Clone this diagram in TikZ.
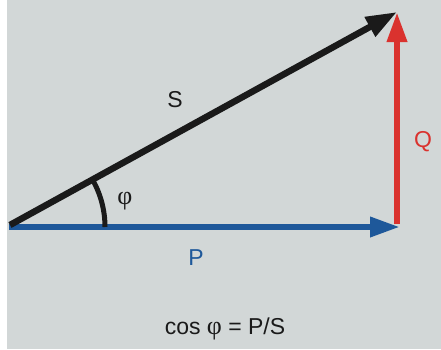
\documentclass[tikz,border=0pt]{standalone}
\usepackage{fontspec}
\setmainfont{Liberation Sans}
\newfontfamily\phifont{Liberation Serif}
\usetikzlibrary{arrows.meta,calc}
\definecolor{bggray}{RGB}{210,215,215}
\definecolor{vblue}{RGB}{30,88,154}
\definecolor{vred}{RGB}{218,50,46}
\definecolor{vblack}{RGB}{26,26,26}
\newcommand{\phisym}{{\phifont\fontsize{26}{28}\selectfont φ}}
\begin{document}
\begin{tikzpicture}[x=1pt,y=1pt,
  vec/.style={line width=6.5pt,-{Triangle[length=30pt,width=19pt]}},
  lbl/.style={font=\fontsize{23}{27}\selectfont,inner sep=0pt}]
\useasboundingbox (0,0) rectangle (441,349);
\fill[bggray] (7,0) rectangle (441,349);
\coordinate (O) at (9,122);
\coordinate (Pt) at (400,122);
\coordinate (Qb) at (397,125);
\coordinate (T) at (397,337);
\draw[vec,vred] (Qb) -- (T);
\draw[vec,vblue] (O) -- (Pt);
\draw[line width=5pt,vblack] ($(O)+(96,0)$) arc (0:29:96);
\draw[line width=6.5pt,vblack,-{Triangle[length=31pt,width=21pt]}] ($(O)+(1,2)$) -- (T);
\node[lbl,vblack] (S) at (175,249) {S};
\node[lbl,vblack] (phi) at (125,148) {\phisym};
\node[lbl,vred] (Q) at (423,207) {Q};
\node[lbl,vblue] (P) at (196,91) {P};
\node[lbl,vblack] (f) at (225,20) {cos \phisym{} = P/S};
\end{tikzpicture}
\end{document}
